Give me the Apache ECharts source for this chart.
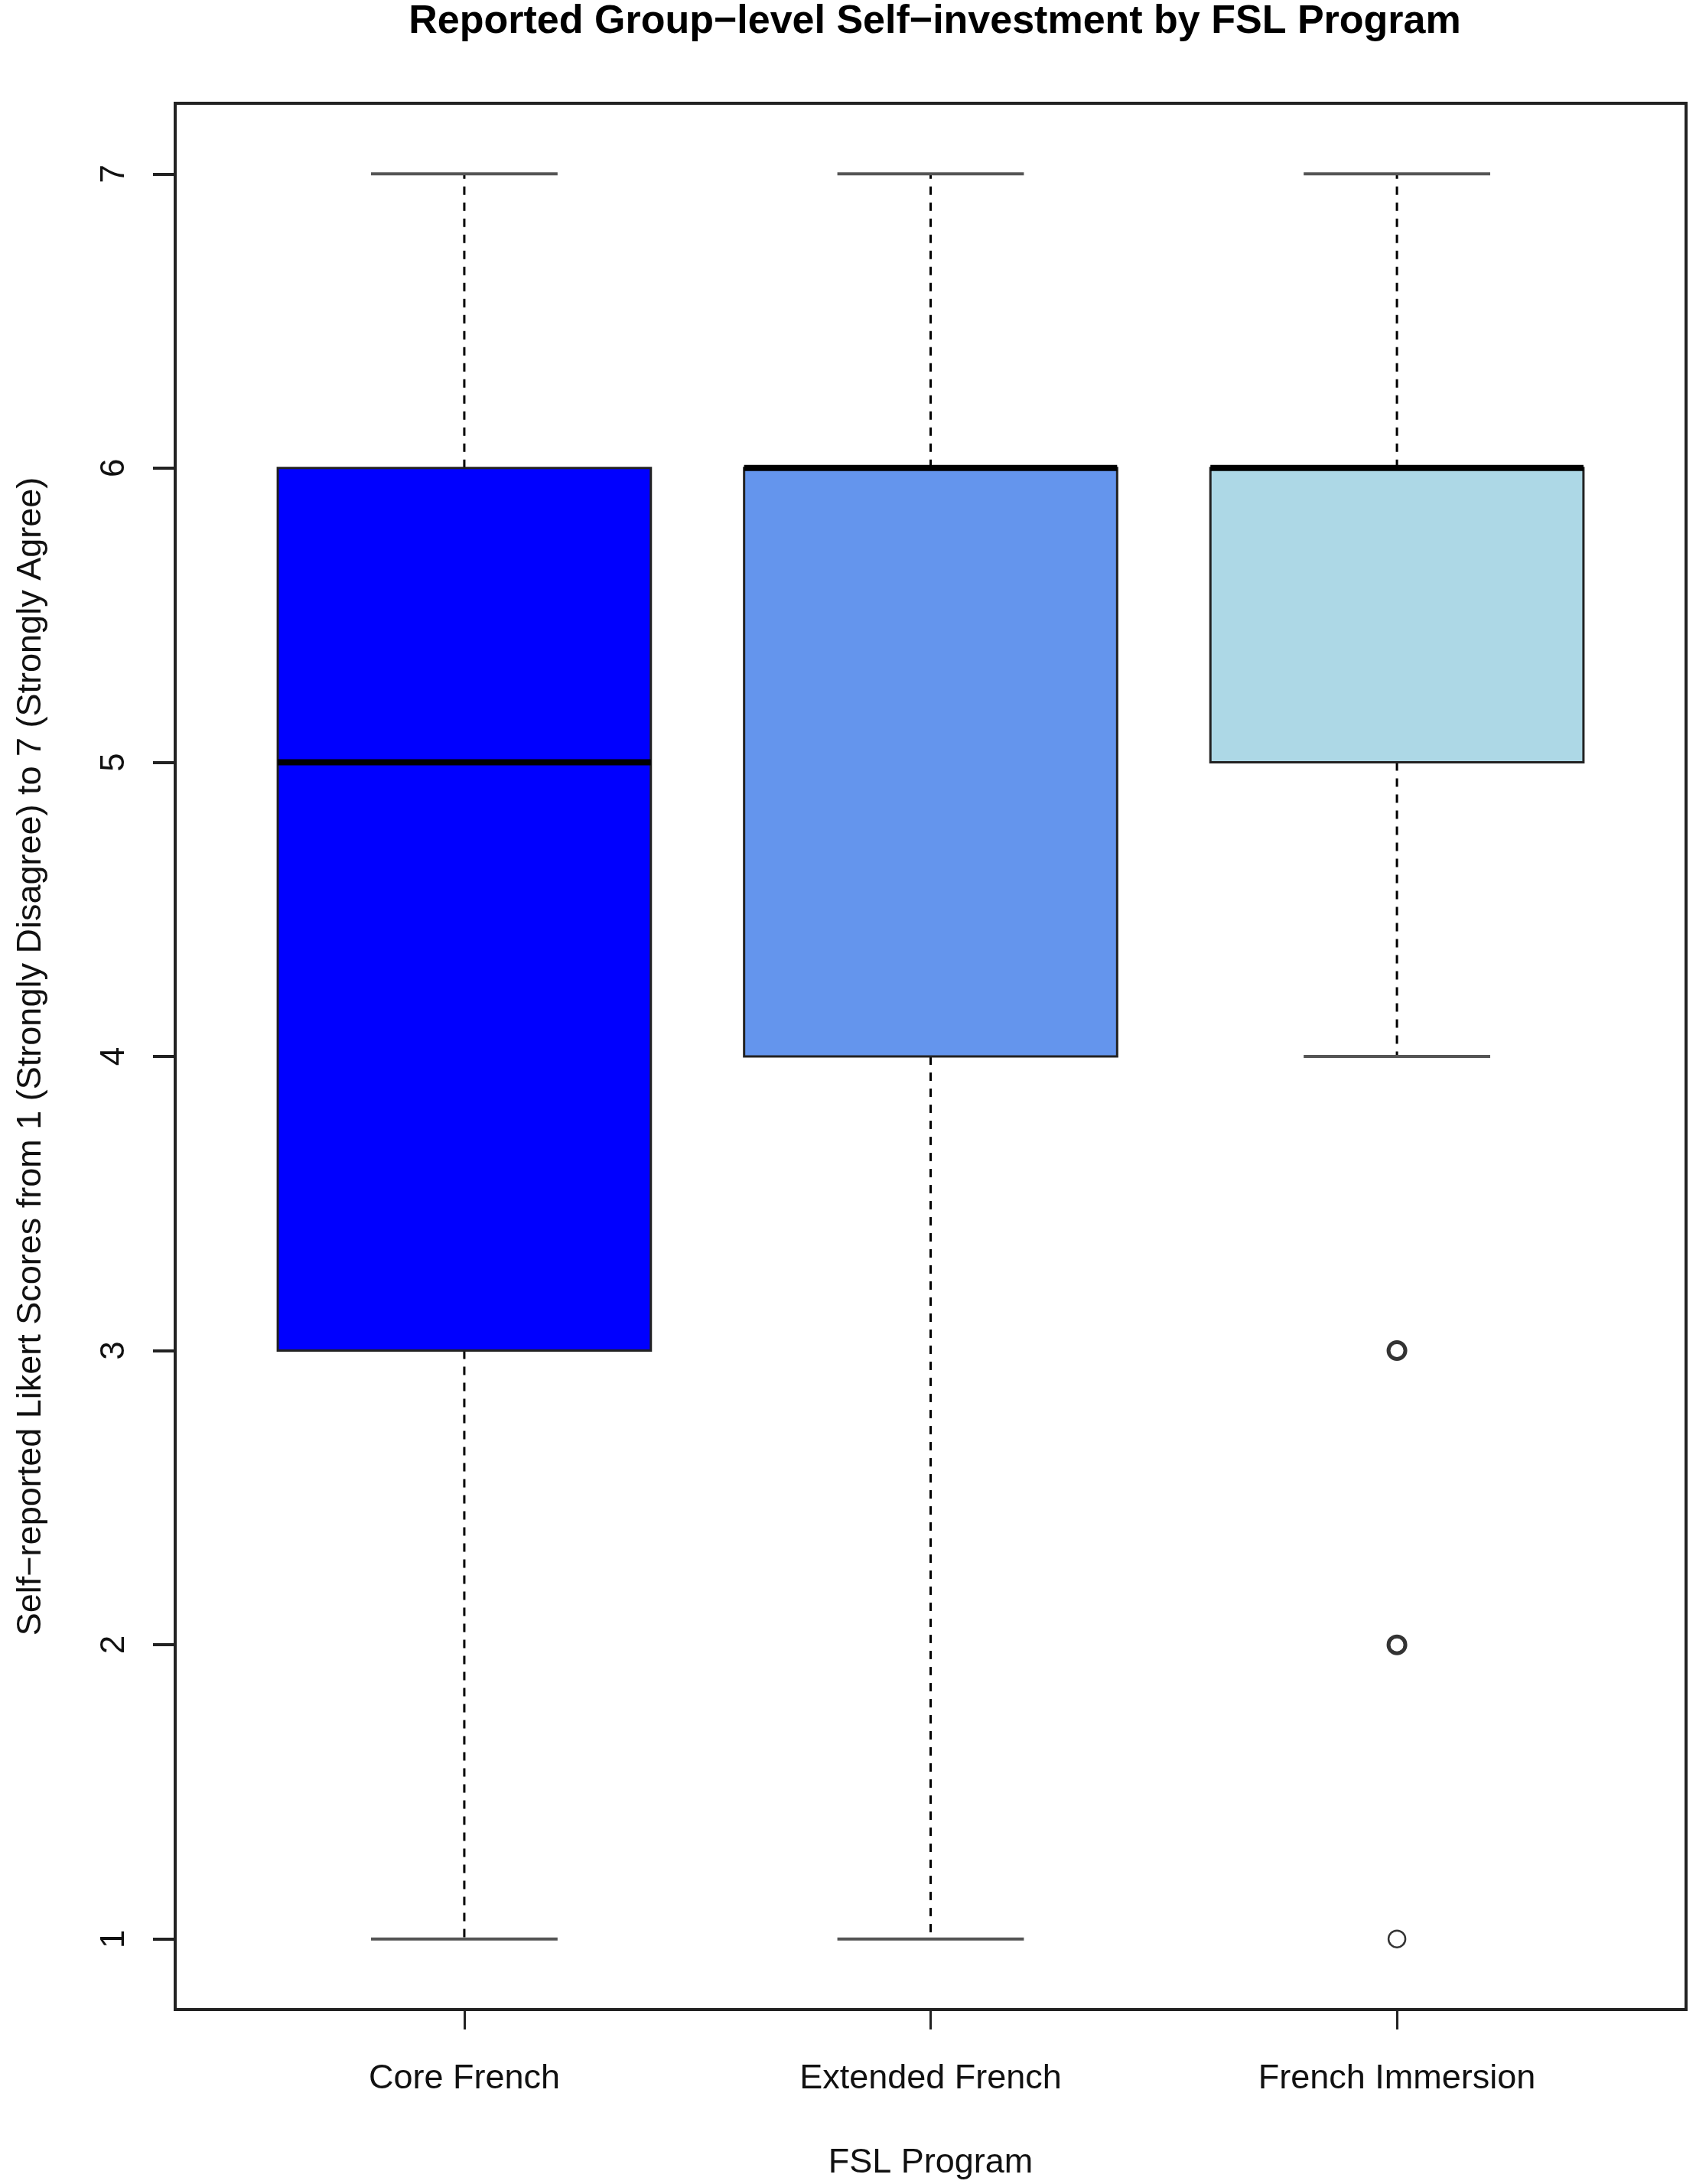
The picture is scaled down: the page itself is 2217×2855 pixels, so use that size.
<!DOCTYPE html>
<html>
<head>
<meta charset="utf-8">
<script src="https://cdn.jsdelivr.net/npm/echarts@6/dist/echarts.min.js"></script>
<style>
  html, body { margin: 0; padding: 0; background: #fff; }
  #chart { width: 2217px; height: 2855px; }
</style>
</head>
<body>
<div id="chart"></div>
<script>
// programmes, one box each (x positions 1, 2, 3)
const programs = ["Core French", "Extended French", "French Immersion"];
const boxColors = ["#0000FF", "#6495ED", "#ADD8E6"];
// five-number summaries
const whiskerLow = [1, 1, 4];
const q1 = [3, 4, 5];
const medians = [5, 6, 6];
const q3 = [6, 6, 6];
const whiskerHigh = [7, 7, 7];
// French Immersion outliers (the bold rings are several points stacked)
const outlierValues = [3, 2, 1];
const outlierCounts = [4, 3, 1];
const yTicks = [1, 2, 3, 4, 5, 6, 7];

const FONT = "Liberation Sans";

let boxData = programs.map(function (p, i) {
  return [i + 1, whiskerLow[i], q1[i], medians[i], q3[i], whiskerHigh[i]];
});
let outlierData = outlierValues.map(function (v, i) {
  return {
    value: [3, v],
    itemStyle: { borderWidth: outlierCounts[i] > 1 ? 5 : 2.5 }
  };
});

function renderBox(params, api) {
  let x = api.value(0);
  let lo = api.coord([x, api.value(1)]);
  let b1 = api.coord([x, api.value(2)]);
  let md = api.coord([x, api.value(3)]);
  let b3 = api.coord([x, api.value(4)]);
  let hi = api.coord([x, api.value(5)]);
  let boxW = api.size([0.8, 0])[0];
  let capW = api.size([0.4, 0])[0];
  let cx = lo[0];
  let dash = { stroke: "#000", lineWidth: 3, lineDash: [11, 10] };
  let cap = { stroke: "#555", lineWidth: 4 };
  return {
    type: "group",
    children: [
      { type: "line", shape: { x1: cx, y1: b3[1], x2: cx, y2: hi[1] }, style: dash },
      { type: "line", shape: { x1: cx, y1: b1[1], x2: cx, y2: lo[1] }, style: dash },
      { type: "line", shape: { x1: cx - capW / 2, y1: hi[1], x2: cx + capW / 2, y2: hi[1] }, style: cap },
      { type: "line", shape: { x1: cx - capW / 2, y1: lo[1], x2: cx + capW / 2, y2: lo[1] }, style: cap },
      {
        type: "rect",
        shape: { x: cx - boxW / 2, y: b3[1], width: boxW, height: b1[1] - b3[1] },
        style: { fill: boxColors[params.dataIndex], stroke: "#222", lineWidth: 3 }
      },
      { type: "line", shape: { x1: cx - boxW / 2, y1: md[1], x2: cx + boxW / 2, y2: md[1] }, style: { stroke: "#000", lineWidth: 8 } }
    ]
  };
}

var myChart = echarts.init(document.getElementById("chart"));

var option = {
  backgroundColor: "#fff",
  animation: false,
  title: {
    text: "Reported Group\u2212level Self\u2212investment by FSL Program",
    left: 1217,
    top: -2,
    textAlign: "center",
    textStyle: { fontFamily: FONT, fontSize: 52, fontWeight: "bold", color: "#000" }
  },
  grid: {
    left: 229,
    right: 13,
    top: 135,
    bottom: 228,
    show: true,
    borderColor: "#222",
    borderWidth: 4,
    backgroundColor: "#fff"
  },
  xAxis: {
    type: "value",
    min: 0.38,
    max: 3.62,
    name: "FSL Program",
    nameLocation: "middle",
    nameGap: 178,
    nameTextStyle: { fontFamily: FONT, fontSize: 45, color: "#111" },
    splitLine: { show: false },
    axisLine: { show: false },
    axisTick: { show: true, customValues: [1, 2, 3], length: 26, lineStyle: { color: "#222", width: 3 } },
    axisLabel: {
      customValues: [1, 2, 3],
      margin: 68,
      fontFamily: FONT,
      fontSize: 45,
      color: "#111",
      formatter: function (v) { return programs[Math.round(v) - 1]; }
    }
  },
  yAxis: {
    type: "value",
    min: 0.76,
    max: 7.24,
    name: "Self\u2212reported Likert Scores from 1 (Strongly Disagree) to 7 (Strongly Agree)",
    nameLocation: "middle",
    nameGap: 166,
    nameRotate: 90,
    nameTextStyle: { fontFamily: FONT, fontSize: 45, color: "#111" },
    splitLine: { show: false },
    axisLine: { show: false },
    axisTick: { show: true, customValues: yTicks, length: 29, lineStyle: { color: "#222", width: 4 } },
    axisLabel: {
      customValues: yTicks,
      rotate: 90,
      margin: 57,
      fontFamily: FONT,
      fontSize: 44,
      color: "#111"
    }
  },
  series: [
    {
      type: "custom",
      renderItem: renderBox,
      encode: { x: 0, y: [1, 2, 3, 4, 5] },
      data: boxData,
      z: 2
    },
    {
      type: "scatter",
      symbol: "circle",
      symbolSize: 22,
      itemStyle: { color: "#fff", borderColor: "#000" },
      data: outlierData,
      z: 3
    }
  ]
};

option && myChart.setOption(option);
</script>
</body>
</html>
